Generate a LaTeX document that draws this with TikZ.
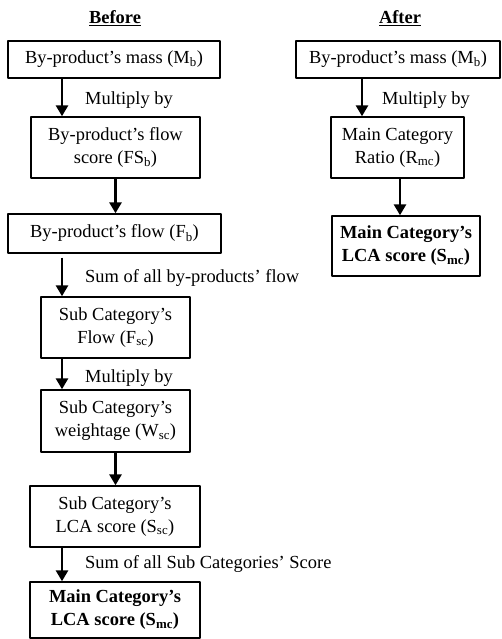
\documentclass[tikz,border=0pt]{standalone}
\usepackage{fontspec}
\setmainfont{Liberation Serif}
\usepackage{tikz}
\usetikzlibrary{arrows.meta,shapes}

\begin{document}
\begin{tikzpicture}[>={Triangle[length=11bp,width=12bp]},line join=bevel,
  box/.style={draw,line width=1.4bp,align=center,inner sep=0pt},
  lbl/.style={anchor=west,inner sep=0pt},
  arr/.style={->,line width=2.8bp},
  font=\fontsize{18.5}{23}\selectfont]
\useasboundingbox (0bp,0bp) rectangle (502bp,639bp);
%% before
\node (before) at (115bp,621bp) {\underline{\textbf{Before}}};
  \node (B1) at (114bp,579.5bp) [box,minimum width=212bp,minimum height=37bp] {By-product’s mass (M\textsubscript{b})};
  \node (B2) at (115.5bp,491.5bp) [box,minimum width=169bp,minimum height=61bp] {By-product’s flow\\score (FS\textsubscript{b})};
  \node (B3) at (114.5bp,405.5bp) [box,minimum width=213bp,minimum height=39bp] {By-product’s flow (F\textsubscript{b})};
  \node (B4) at (115.5bp,311.5bp) [box,minimum width=149bp,minimum height=61bp] {Sub Category’s\\Flow (F\textsubscript{sc})};
  \node (B5) at (115.5bp,218bp) [box,minimum width=149bp,minimum height=62bp] {Sub Category’s\\weightage (W\textsubscript{sc})};
  \node (B6) at (115bp,122.5bp) [box,minimum width=170bp,minimum height=61bp] {Sub Category’s\\LCA score (S\textsubscript{sc})};
  \node (B7) at (115bp,29bp) [box,minimum width=170bp,minimum height=56bp] {\textbf{Main Category’s}\\\textbf{LCA score (S\textsubscript{mc})}};
  \draw [arr] ([xshift=-52bp]B1.south) -- ([xshift=-52bp]B1.south |- B2.north);
  \node (l1) at (85bp,539bp) [lbl] {Multiply by};
  \draw [arr] (B2.south) -- (B2.south |- B3.north);
  \draw [arr,shorten <=4bp] ([xshift=-52.5bp]B3.south) -- ([xshift=-52.5bp]B3.south |- B4.north);
  \node (l2) at (85bp,361bp) [lbl] {Sum of all by-products’ flow};
  \draw [arr] ([xshift=-53.5bp]B4.south) -- ([xshift=-53.5bp]B4.south |- B5.north);
  \node (l3) at (85bp,261bp) [lbl] {Multiply by};
  \draw [arr] (B5.south) -- (B5.south |- B6.north);
  \draw [arr] ([xshift=-53bp]B6.south) -- ([xshift=-53bp]B6.south |- B7.north);
  \node (l4) at (85bp,75bp) [lbl] {Sum of all Sub Categories’ Score};
%% after
\node (after) at (400bp,621bp) {\underline{\textbf{After}}};
  \node (R1) at (398bp,579.5bp) [box,minimum width=204bp,minimum height=37bp] {By-product’s mass (M\textsubscript{b})};
  \node (R2) at (397.5bp,491.5bp) [box,minimum width=133bp,minimum height=61bp] {Main Category\\Ratio (R\textsubscript{mc})};
  \node (R3) at (406bp,393bp) [box,minimum width=148bp,minimum height=60bp] {\textbf{Main Category’s}\\\textbf{LCA score (S\textsubscript{mc})}};
  \draw [arr] ([xshift=-36bp]R1.south) -- ([xshift=-36bp]R1.south |- R2.north);
  \node (m1) at (382bp,539bp) [lbl] {Multiply by};
  \draw [arr] ([xshift=2.5bp]R2.south) -- ([xshift=2.5bp]R2.south |- R3.north);
%
\end{tikzpicture}
\end{document}
